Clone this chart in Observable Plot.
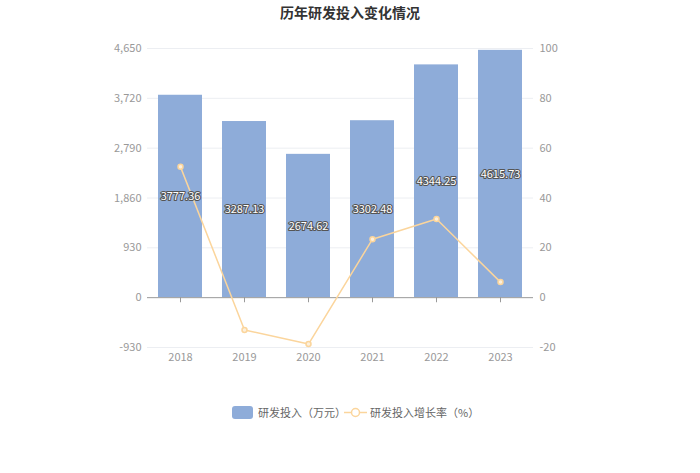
<!DOCTYPE html>
<html><head><meta charset="utf-8">
<script src="https://cdn.jsdelivr.net/npm/d3@7"></script>
<script src="https://cdn.jsdelivr.net/npm/@observablehq/plot@0.6"></script>
<style>
body{margin:0;background:#fff;font-family:"Noto Sans CJK SC","Noto Sans",sans-serif;}
#wrap{position:relative;width:700px;height:473px;}
#title{position:absolute;top:2px;left:0;width:700px;text-align:center;font-size:14px;font-weight:bold;color:#333;}
#chart{position:absolute;top:30px;left:0;}
#legend{position:absolute;top:404px;left:0;width:700px;font-size:11px;color:#666;}
.li{position:absolute;display:flex;align-items:center;}
</style></head>
<body><div id="wrap">
<div id="title">历年研发投入变化情况</div>
<div id="chart"></div>
<div id="legend">
 <div class="li" style="left:232px;top:0"><span style="display:inline-block;width:21px;height:13px;background:#8eacd9;border-radius:3px;margin-right:5px"></span>研发投入（万元）</div>
 <div class="li" style="left:344px;top:0"><svg width="23" height="13" style="margin-right:3px"><line x1="0" y1="6.5" x2="23" y2="6.5" stroke="#fbd59c" stroke-width="1.5"/><circle cx="11.5" cy="6.5" r="4" fill="#fff" stroke="#fbd59c" stroke-width="1.5"/></svg>研发投入增长率（%）</div>
</div>
</div>
<script>
const years = ["2018","2019","2020","2021","2022","2023"];
const investment = [3777.36, 3287.13, 2674.62, 3302.48, 4344.25, 4615.73];
const growthRate = [52.5, -12.98, -18.63, 23.47, 31.54, 6.25];
const leftTicks = [-930, 0, 930, 1860, 2790, 3720, 4650];
const rightTicks = [-20, 0, 20, 40, 60, 80, 100];

const ratio = 4650 / 100;
const data = years.map((y, i) => ({year: y, value: investment[i], rate: growthRate[i]}));

const chart = Plot.plot({
  width: 700,
  height: 350,
  marginTop: 18,
  marginBottom: 33,
  marginLeft: 147,
  marginRight: 167,
  style: {fontFamily: '"Noto Sans CJK SC","Noto Sans",sans-serif', fontSize: "11px", color: "#999"},
  x: {domain: years, paddingInner: 0.31, paddingOuter: 0.155, label: null},
  y: {domain: [-930, 4650], label: null},
  marks: [
    Plot.ruleY(leftTicks.filter(d => d !== 0), {stroke: "#eceef2", strokeWidth: 1}),
    Plot.barY(data, {x: "year", y: "value", fill: "#8eacd9"}),
    Plot.ruleY([0], {stroke: "#9a9a9a", strokeWidth: 1}),
    Plot.ruleX(years, {x: d => d, y1: 0, y2: -95, stroke: "#9a9a9a"}),
    Plot.axisY(leftTicks, {tickSize: 0, tickPadding: 6, tickFormat: d => d.toLocaleString("en-US"), fill: "#999", label: null}),
    Plot.axisX({tickSize: 0, tickPadding: 6, fill: "#999", label: null}),
    Plot.text(rightTicks, {y: d => d * ratio, text: d => String(d), frameAnchor: "right", textAnchor: "start", dx: 6, fill: "#999"}),
    Plot.line(data, {x: "year", y: d => d.rate * ratio, stroke: "#fbd59c", strokeWidth: 1.5}),
    Plot.dot(data, {x: "year", y: d => d.rate * ratio, r: 2.5, fill: "#fdf0dc", stroke: "#fbd59c", strokeWidth: 1.5}),
    Plot.text(data, {x: "year", y: d => d.value / 2, text: d => d.value.toFixed(2), fill: "#fff", stroke: "#555", strokeWidth: 2.2, paintOrder: "stroke", fontSize: 11})
  ]
});
document.getElementById("chart").appendChild(chart);
</script>
</body></html>
